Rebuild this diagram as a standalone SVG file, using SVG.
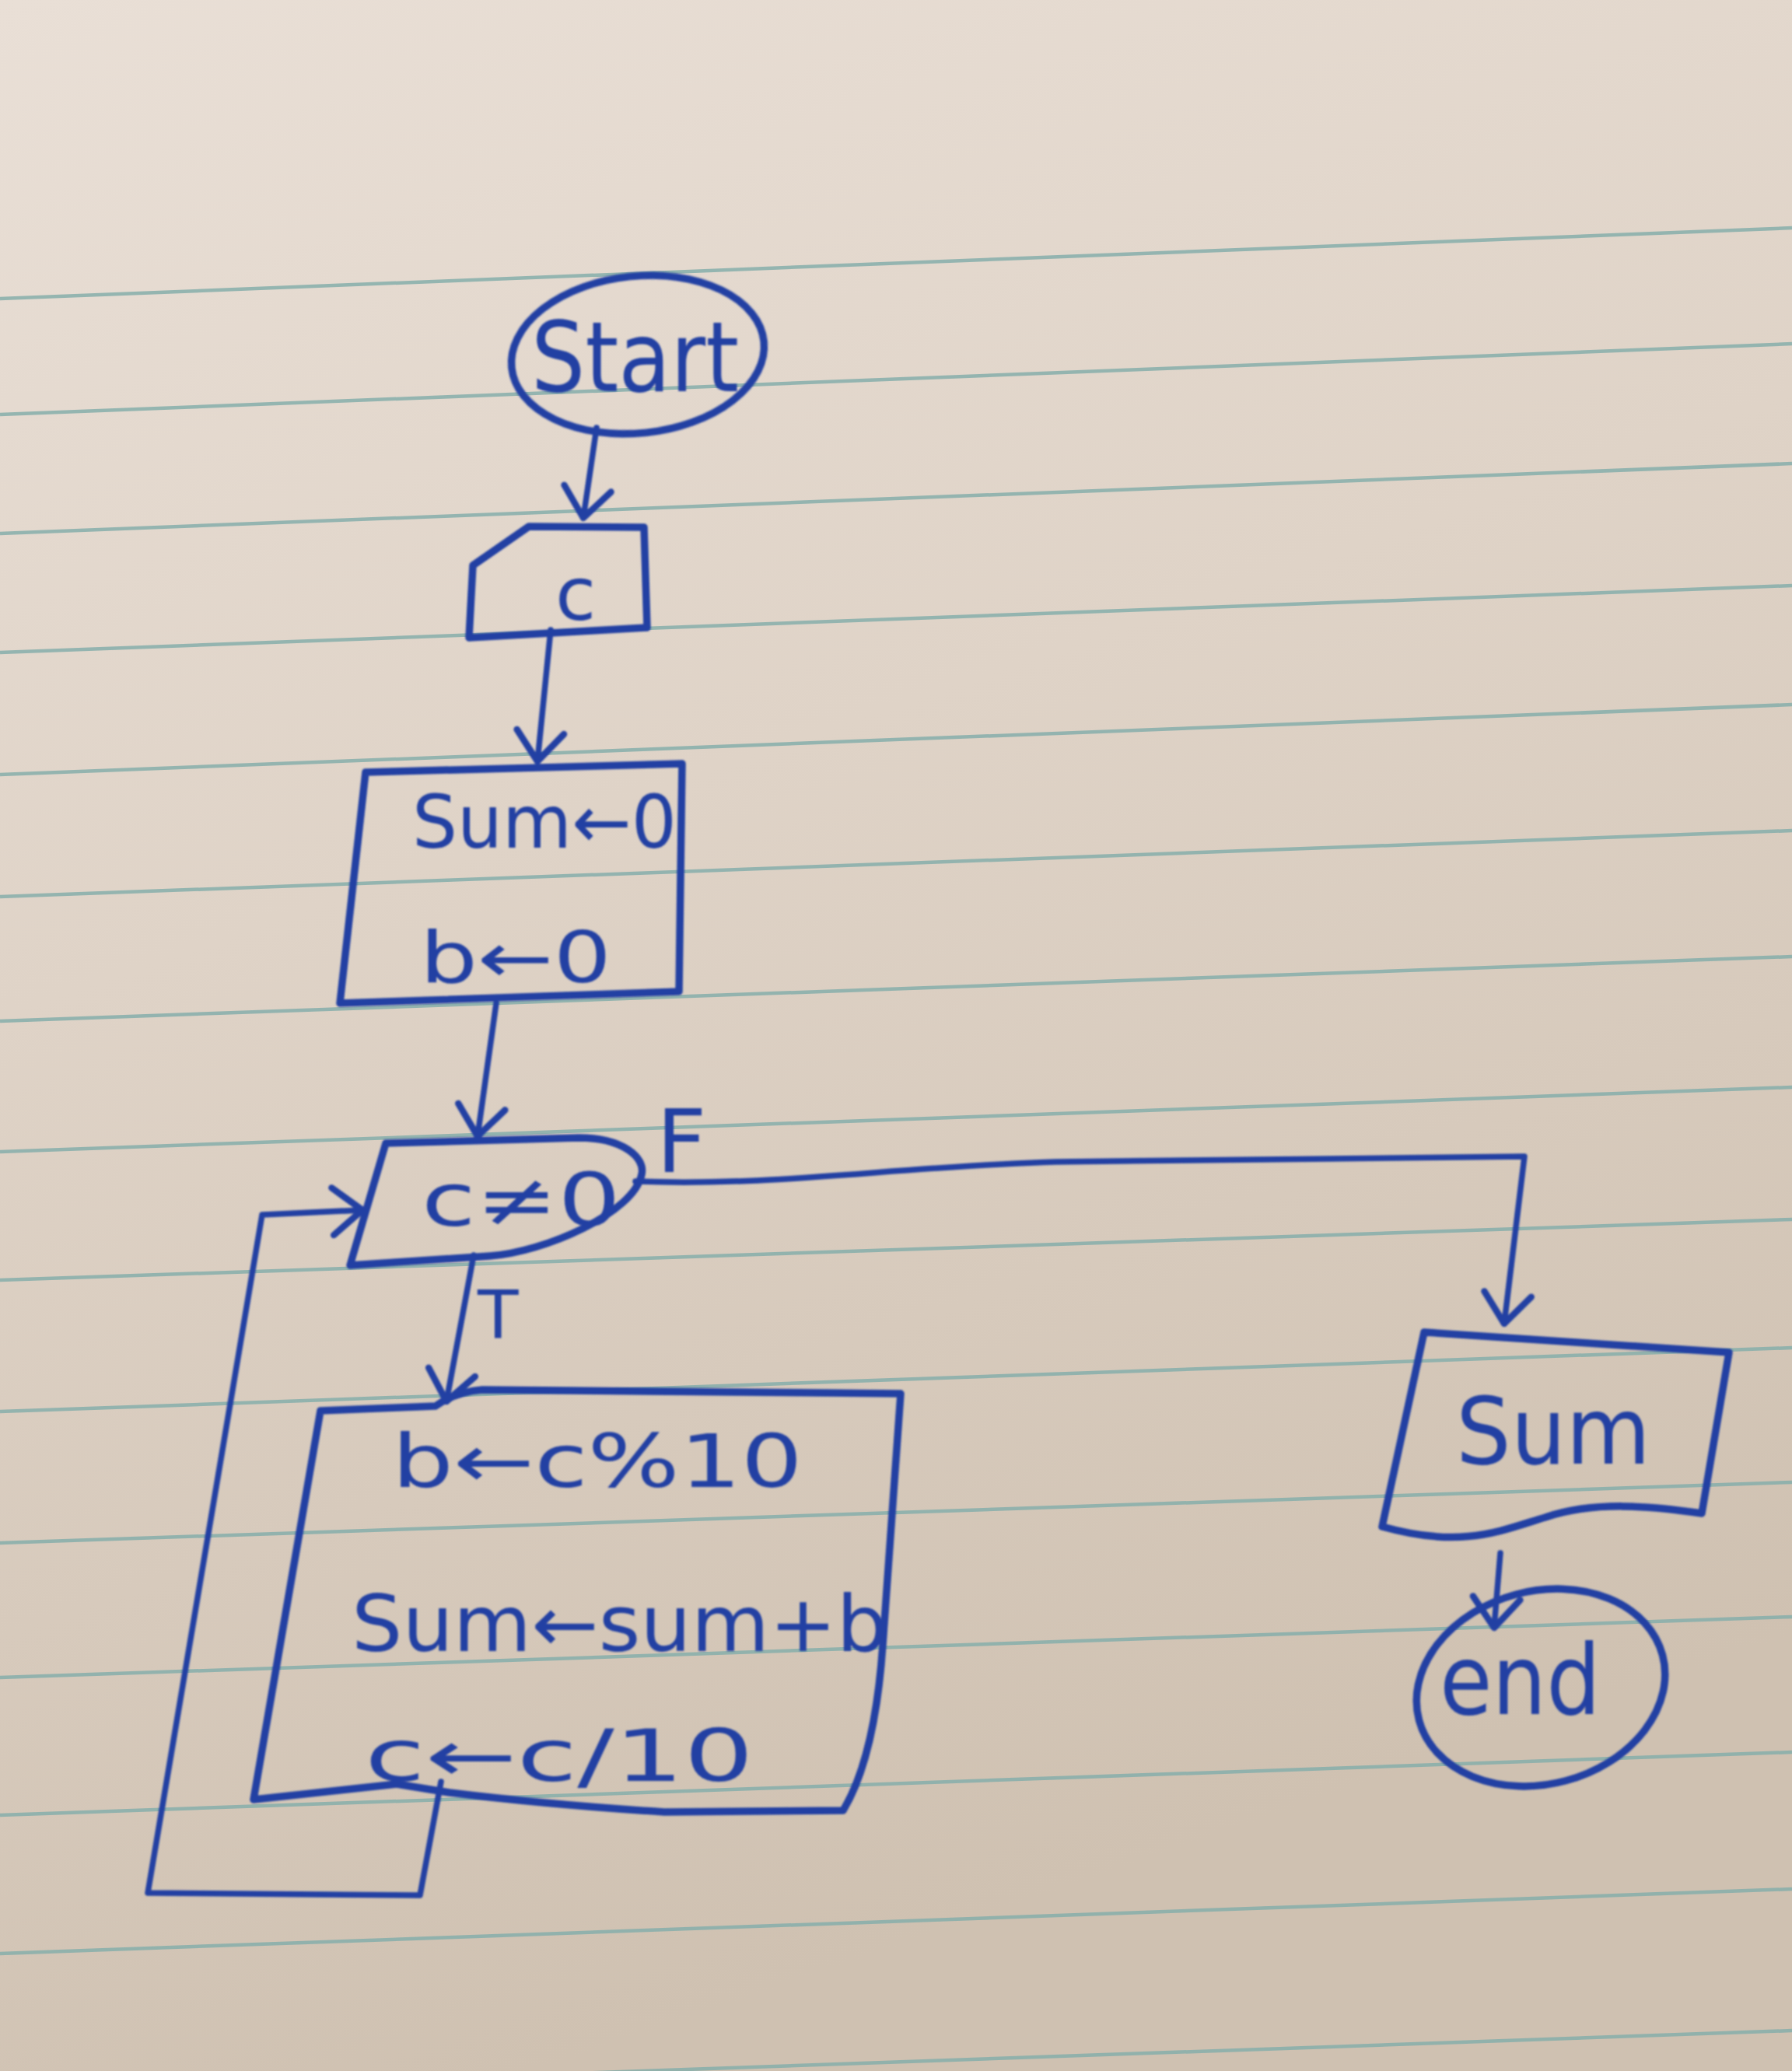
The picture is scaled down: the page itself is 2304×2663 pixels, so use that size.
<svg xmlns="http://www.w3.org/2000/svg" width="2304" height="2663" viewBox="0 0 2304 2663">
  <defs>
    <linearGradient id="paper" x1="0" y1="0" x2="0.3" y2="1">
      <stop offset="0" stop-color="#e9dfd6"/>
      <stop offset="0.45" stop-color="#dfd3c7"/>
      <stop offset="1" stop-color="#cfc1b1"/>
    </linearGradient>
    <filter id="soft" x="-5%" y="-5%" width="110%" height="110%">
      <feGaussianBlur stdDeviation="1.1"/>
    </filter>
    <marker id="ah" markerUnits="userSpaceOnUse" markerWidth="90" markerHeight="90" viewBox="-50 -40 60 80" refX="0" refY="0" orient="auto" overflow="visible">
      <path d="M -34,-27 L 0,0 L -34,27" fill="none" stroke="#2441a3" stroke-width="7.5" stroke-linecap="round" stroke-linejoin="round"/>
    </marker>
    <style>
      .rule { stroke: #86aeaa; stroke-width: 4.5; fill: none; opacity: 0.85; }
      .shape { fill: none; stroke: #2441a3; stroke-width: 9.5; stroke-linecap: round; stroke-linejoin: round; }
      .conn { fill: none; stroke: #2441a3; stroke-width: 7.5; stroke-linecap: round; stroke-linejoin: round; }
      .lbl { font-family: "DejaVu Sans", "Liberation Sans", sans-serif; fill: #2441a3; }
    </style>
  </defs>

  <!-- ruled notebook paper -->
  <g id="paper-sheet">
    <rect x="0" y="0" width="2304" height="2663" fill="url(#paper)"/>
    <line class="rule" x1="0" y1="384" x2="2304" y2="293"/>
    <line class="rule" x1="0" y1="533" x2="2304" y2="442"/>
    <line class="rule" x1="0" y1="686" x2="2304" y2="596"/>
    <line class="rule" x1="0" y1="839" x2="2304" y2="753"/>
    <line class="rule" x1="0" y1="996" x2="2304" y2="906"/>
    <line class="rule" x1="0" y1="1153" x2="2304" y2="1068"/>
    <line class="rule" x1="0" y1="1313" x2="2304" y2="1230"/>
    <line class="rule" x1="0" y1="1481" x2="2304" y2="1398"/>
    <line class="rule" x1="0" y1="1646" x2="2304" y2="1568"/>
    <line class="rule" x1="0" y1="1815" x2="2304" y2="1733"/>
    <line class="rule" x1="0" y1="1984" x2="2304" y2="1906"/>
    <line class="rule" x1="0" y1="2157" x2="2304" y2="2079"/>
    <line class="rule" x1="0" y1="2334" x2="2304" y2="2253"/>
    <line class="rule" x1="0" y1="2512" x2="2304" y2="2429"/>
    <line class="rule" x1="0" y1="2692" x2="2304" y2="2611"/>
  </g>

  <g filter="url(#soft)">
    <!-- connectors -->
    <g id="connectors">
      <path class="conn" d="M 767,550 L 750,666" marker-end="url(#ah)"/>
      <path class="conn" d="M 708,810 L 691,979" marker-end="url(#ah)"/>
      <path class="conn" d="M 638,1290 L 614,1461" marker-end="url(#ah)"/>
      <path class="conn" d="M 609,1614 L 574,1802" marker-end="url(#ah)"/>
      <path class="conn" d="M 817,1519 C 1000,1526 1150,1500 1358,1494 L 1960,1487 L 1934,1702" marker-end="url(#ah)"/>
      <path class="conn" d="M 567,2291 L 540,2437 L 190,2434 L 337,1562 L 466,1556" marker-end="url(#ah)"/>
      <path class="conn" d="M 1929,1997 L 1921,2093" marker-end="url(#ah)"/>
      <text class="lbl" x="844" y="1507" font-size="112">F</text>
      <text class="lbl" x="614" y="1720" font-size="86">T</text>
    </g>

    <!-- start terminal -->
    <g id="start">
      <ellipse class="shape" cx="820" cy="456" rx="163" ry="101" transform="rotate(-6 820 456)"/>
      <text class="lbl" x="683" y="503" font-size="125" textLength="267" lengthAdjust="spacingAndGlyphs">Start</text>
    </g>

    <!-- manual input of c -->
    <g id="input-c">
      <path class="shape" d="M 680,677 L 828,678 L 832,807 L 603,820 L 608,727 Z"/>
      <text class="lbl" x="740" y="797" font-size="95" text-anchor="middle">c</text>
    </g>

    <!-- initialisation -->
    <g id="init">
      <path class="shape" d="M 470,993 L 877,982 L 873,1275 L 437,1290 Z"/>
      <text class="lbl" x="530" y="1090" font-size="95" textLength="340" lengthAdjust="spacingAndGlyphs">Sum←0</text>
      <text class="lbl" x="540" y="1263" font-size="90" textLength="246" lengthAdjust="spacingAndGlyphs">b←0</text>
    </g>

    <!-- loop condition -->
    <g id="decision">
      <path class="shape" d="M 496,1470 L 744,1463 C 800,1463 830,1488 825,1510 C 815,1560 700,1610 630,1615 L 450,1627 Z"/>
      <text class="lbl" x="542" y="1576" font-size="95" textLength="256" lengthAdjust="spacingAndGlyphs">c≠0</text>
    </g>

    <!-- loop body -->
    <g id="loop-body">
      <path class="shape" d="M 412,1814 L 560,1808 Q 585,1790 620,1787 L 1158,1792 L 1135,2115 Q 1125,2260 1084,2328 L 854,2330 Q 700,2320 578,2305 L 510,2294 L 326,2314 Z"/>
      <text class="lbl" x="504" y="1912" font-size="95" textLength="528" lengthAdjust="spacingAndGlyphs">b←c%10</text>
      <text class="lbl" x="452" y="2123" font-size="100" textLength="689" lengthAdjust="spacingAndGlyphs">Sum←sum+b</text>
      <text class="lbl" x="469" y="2290" font-size="92" textLength="500" lengthAdjust="spacingAndGlyphs">c←c/10</text>
    </g>

    <!-- output of Sum -->
    <g id="output-sum">
      <path class="shape" d="M 1831,1713 L 2223,1739 L 2188,1946 C 2120,1936 2050,1930 1987,1951 C 1930,1968 1880,1992 1777,1963 Z"/>
      <text class="lbl" x="1872" y="1882" font-size="120" textLength="250" lengthAdjust="spacingAndGlyphs">Sum</text>
    </g>

    <!-- end terminal -->
    <g id="end">
      <ellipse class="shape" cx="1981" cy="2170" rx="162" ry="124" transform="rotate(-15 1981 2170)"/>
      <text class="lbl" x="1851" y="2204" font-size="125" textLength="207" lengthAdjust="spacingAndGlyphs">end</text>
    </g>
  </g>
</svg>
